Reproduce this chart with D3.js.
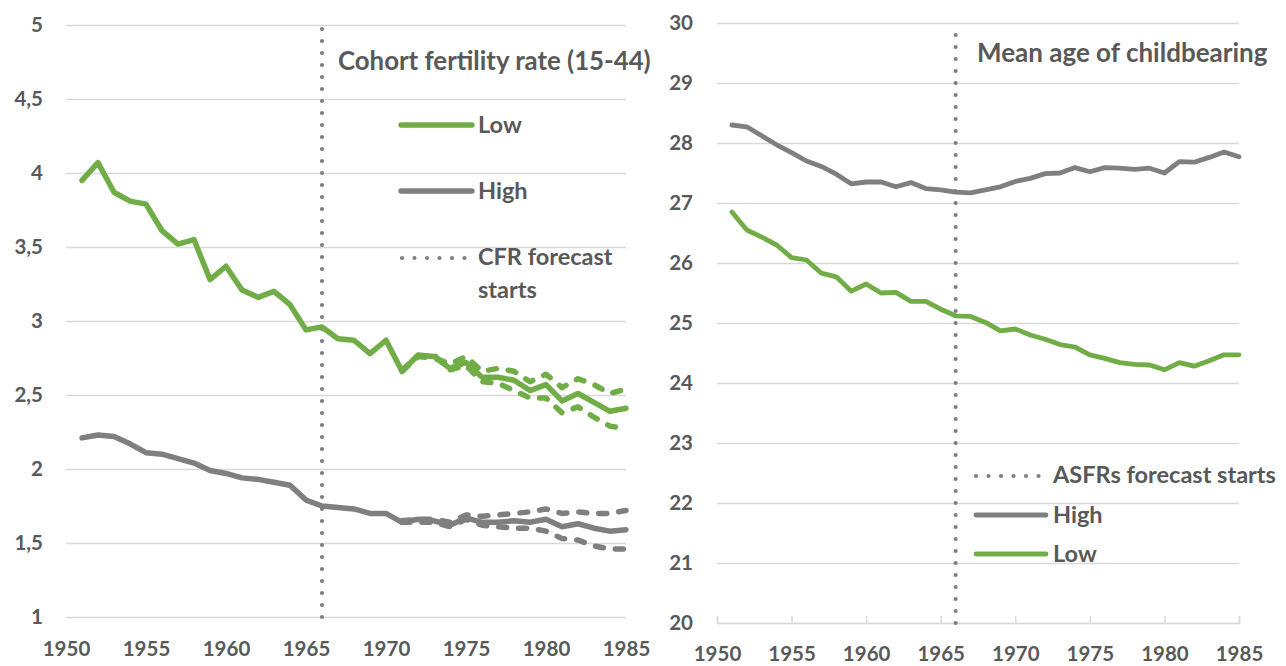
<!DOCTYPE html>
<html>
<head>
<meta charset="utf-8">
<script src="https://cdn.jsdelivr.net/npm/d3@7/dist/d3.min.js"></script>
<style>
  html, body { margin: 0; padding: 0; background: #fff; }
  svg { display: block; }
  text { font-family: "Lato", "Open Sans", sans-serif; font-weight: 700; fill: #595959; }
</style>
</head>
<body>
<svg id="chart" width="1286" height="666"></svg>
<script>
// Birth cohorts (years of birth)
const years = [1951,1952,1953,1954,1955,1956,1957,1958,1959,1960,1961,1962,1963,1964,1965,
  1966,1967,1968,1969,1970,1971,1972,1973,1974,1975,1976,1977,1978,1979,1980,1981,1982,1983,1984,1985];
// Cohort years covered by the forecast intervals
const bandYears = [1971,1972,1973,1974,1975,1976,1977,1978,1979,1980,1981,1982,1983,1984,1985];

// Cohort fertility rate (15-44)
const cfrLow = [3.95,4.07,3.87,3.81,3.79,3.61,3.52,3.55,3.28,3.37,3.21,3.16,3.20,3.11,2.94,
  2.96,2.88,2.87,2.78,2.87,2.66,2.77,2.76,2.68,2.72,2.62,2.62,2.60,2.53,2.57,2.46,2.51,2.45,2.39,2.41];
const cfrHigh = [2.21,2.23,2.22,2.17,2.11,2.10,2.07,2.04,1.99,1.97,1.94,1.93,1.91,1.89,1.79,
  1.75,1.74,1.73,1.70,1.70,1.64,1.66,1.65,1.62,1.67,1.64,1.64,1.65,1.64,1.66,1.61,1.63,1.60,1.58,1.59];
const cfrLowUpper  = [2.67,2.76,2.75,2.71,2.76,2.66,2.68,2.66,2.59,2.64,2.55,2.61,2.57,2.51,2.54];
const cfrLowLower  = [2.66,2.76,2.77,2.67,2.70,2.59,2.58,2.53,2.48,2.48,2.38,2.42,2.35,2.29,2.27];
const cfrHighUpper = [1.65,1.66,1.66,1.64,1.69,1.68,1.69,1.70,1.71,1.73,1.70,1.71,1.70,1.70,1.72];
const cfrHighLower = [1.64,1.64,1.64,1.61,1.66,1.62,1.61,1.60,1.60,1.58,1.53,1.52,1.48,1.46,1.46];

// Mean age of childbearing
const magHigh = [28.30,28.27,28.12,27.97,27.84,27.70,27.61,27.48,27.32,27.35,27.35,27.27,27.34,27.24,27.22,
  27.18,27.17,27.22,27.27,27.36,27.41,27.49,27.50,27.59,27.52,27.59,27.58,27.56,27.58,27.50,27.69,27.68,27.76,27.85,27.77];
const magLow = [26.85,26.55,26.43,26.30,26.09,26.05,25.83,25.77,25.53,25.65,25.50,25.51,25.36,25.36,25.23,
  25.12,25.11,25.01,24.87,24.90,24.80,24.73,24.64,24.60,24.47,24.41,24.34,24.31,24.30,24.22,24.34,24.28,24.37,24.47,24.47];

// Forecast start year, axis ticks and labels
const forecastStart = 1966;
const xTicks = [1950,1955,1960,1965,1970,1975,1980,1985];
const xTickLabels = ["1950","1955","1960","1965","1970","1975","1980","1985"];
const cfrTicks = [1,1.5,2,2.5,3,3.5,4,4.5,5];
const cfrTickLabels = ["1","1,5","2","2,5","3","3,5","4","4,5","5"];
const magTicks = [20,21,22,23,24,25,26,27,28,29,30];
const magTickLabels = ["20","21","22","23","24","25","26","27","28","29","30"];

const GREEN = "#70ad47", GREY = "#7f7f7f", GRID = "#d9d9d9", DOT = "#7f7f7f";

const svg = d3.select("#chart");

function labelFor(ticks, labels) {
  return v => labels[ticks.indexOf(v)];
}

function drawPanel(cfg) {
  const g = svg.append("g");
  const x = d3.scaleLinear().domain([1950, 1985]).range([cfg.left, cfg.right]);
  const y = d3.scaleLinear().domain(cfg.yDomain).range([cfg.bottom, cfg.top]);

  // horizontal gridlines + y labels
  const ya = g.append("g").attr("transform", `translate(${cfg.left},0)`)
    .call(d3.axisLeft(y).tickValues(cfg.yTicks).tickFormat(labelFor(cfg.yTicks, cfg.yLabels))
      .tickSize(-(cfg.right - cfg.left)).tickPadding(cfg.yPad));
  ya.select(".domain").remove();
  ya.selectAll(".tick line").attr("stroke", GRID).attr("stroke-width", 1.5);
  ya.selectAll(".tick text").attr("font-size", 20.5).attr("fill", "#595959")
    .attr("font-family", "Lato").attr("font-weight", 700);

  // x axis
  const xa = g.append("g").attr("transform", `translate(0,${cfg.bottom})`)
    .call(d3.axisBottom(x).tickValues(xTicks).tickFormat(labelFor(xTicks, xTickLabels))
      .tickSize(cfg.xTickSize).tickPadding(cfg.xPad));
  if (cfg.xAxisLine) {
    xa.select(".domain").attr("stroke", GRID).attr("stroke-width", 1.5);
    xa.selectAll(".tick line").attr("stroke", GRID).attr("stroke-width", 1.5);
  } else {
    xa.select(".domain").remove();
    xa.selectAll(".tick line").remove();
  }
  xa.selectAll(".tick text").attr("font-size", 20.5).attr("fill", "#595959")
    .attr("font-family", "Lato").attr("font-weight", 700);

  // forecast start marker
  g.append("line")
    .attr("x1", x(forecastStart)).attr("x2", x(forecastStart))
    .attr("y1", y(cfg.yDomain[0])).attr("y2", y(cfg.yDomain[1]))
    .attr("stroke", DOT).attr("stroke-width", 4.2).attr("stroke-linecap", "round")
    .attr("stroke-dasharray", "0 12");

  const line = d3.line().x(d => x(d[0])).y(d => y(d[1]));

  (cfg.dashed || []).forEach(s => {
    g.append("path").datum(bandYears.map((yr, i) => [yr, s.values[i]]))
      .attr("d", line).attr("fill", "none").attr("stroke", s.color)
      .attr("stroke-width", cfg.lw).attr("stroke-linecap", "round").attr("stroke-linejoin", "round")
      .attr("stroke-dasharray", "8 12");
  });
  cfg.series.forEach(s => {
    g.append("path").datum(years.map((yr, i) => [yr, s.values[i]]))
      .attr("d", line).attr("fill", "none").attr("stroke", s.color)
      .attr("stroke-width", cfg.lw).attr("stroke-linecap", "round").attr("stroke-linejoin", "round");
  });

  // title
  g.append("text").attr("x", cfg.titleX).attr("y", cfg.titleY)
    .attr("font-size", cfg.titleSize).text(cfg.title);

  // legend
  cfg.legend.forEach(it => {
    const ln = g.append("line").attr("x1", it.x1).attr("x2", it.x2).attr("y1", it.y).attr("y2", it.y)
      .attr("stroke", it.color).attr("stroke-linecap", "round");
    if (it.dotted) ln.attr("stroke-width", 4.2).attr("stroke-dasharray", "0 12.5");
    else ln.attr("stroke-width", cfg.lw);
    const t = g.append("text").attr("x", it.tx).attr("y", it.ty).attr("font-size", cfg.legendSize);
    it.lines.forEach((s, i) => {
      t.append("tspan").attr("x", it.tx).attr("dy", i === 0 ? 0 : 33).text(s);
    });
  });
}

drawPanel({
  left: 66, right: 626, top: 25, bottom: 617,
  yDomain: [1, 5], yTicks: cfrTicks, yLabels: cfrTickLabels, yPad: 23,
  xTickSize: 0, xPad: 24, xAxisLine: false, lw: 5.5,
  series: [{ values: cfrHigh, color: GREY }, { values: cfrLow, color: GREEN }],
  dashed: [
    { values: cfrHighUpper, color: GREY }, { values: cfrHighLower, color: GREY },
    { values: cfrLowUpper, color: GREEN }, { values: cfrLowLower, color: GREEN }
  ],
  title: "Cohort fertility rate (15-44)", titleX: 338, titleY: 70, titleSize: 25.8,
  legendSize: 23.5,
  legend: [
    { x1: 401, x2: 472, y: 125, color: GREEN, tx: 478, ty: 133, lines: ["Low"] },
    { x1: 401, x2: 472, y: 191, color: GREY, tx: 478, ty: 199, lines: ["High"] },
    { x1: 402, x2: 466, y: 258, color: DOT, dotted: true, tx: 478, ty: 265, lines: ["CFR forecast", "starts"] }
  ]
});

drawPanel({
  left: 717, right: 1239, top: 23, bottom: 623,
  yDomain: [20, 30], yTicks: magTicks, yLabels: magTickLabels, yPad: 24,
  xTickSize: -7, xPad: 23, xAxisLine: true, lw: 4.8,
  series: [{ values: magHigh, color: GREY }, { values: magLow, color: GREEN }],
  title: "Mean age of childbearing", titleX: 977, titleY: 62, titleSize: 26,
  legendSize: 23.5,
  legend: [
    { x1: 976, x2: 1040, y: 476, color: DOT, dotted: true, tx: 1053, ty: 483, lines: ["ASFRs forecast starts"] },
    { x1: 976, x2: 1046, y: 515, color: GREY, tx: 1053, ty: 523, lines: ["High"] },
    { x1: 976, x2: 1046, y: 554, color: GREEN, tx: 1053, ty: 562, lines: ["Low"] }
  ]
});
</script>
</body>
</html>
